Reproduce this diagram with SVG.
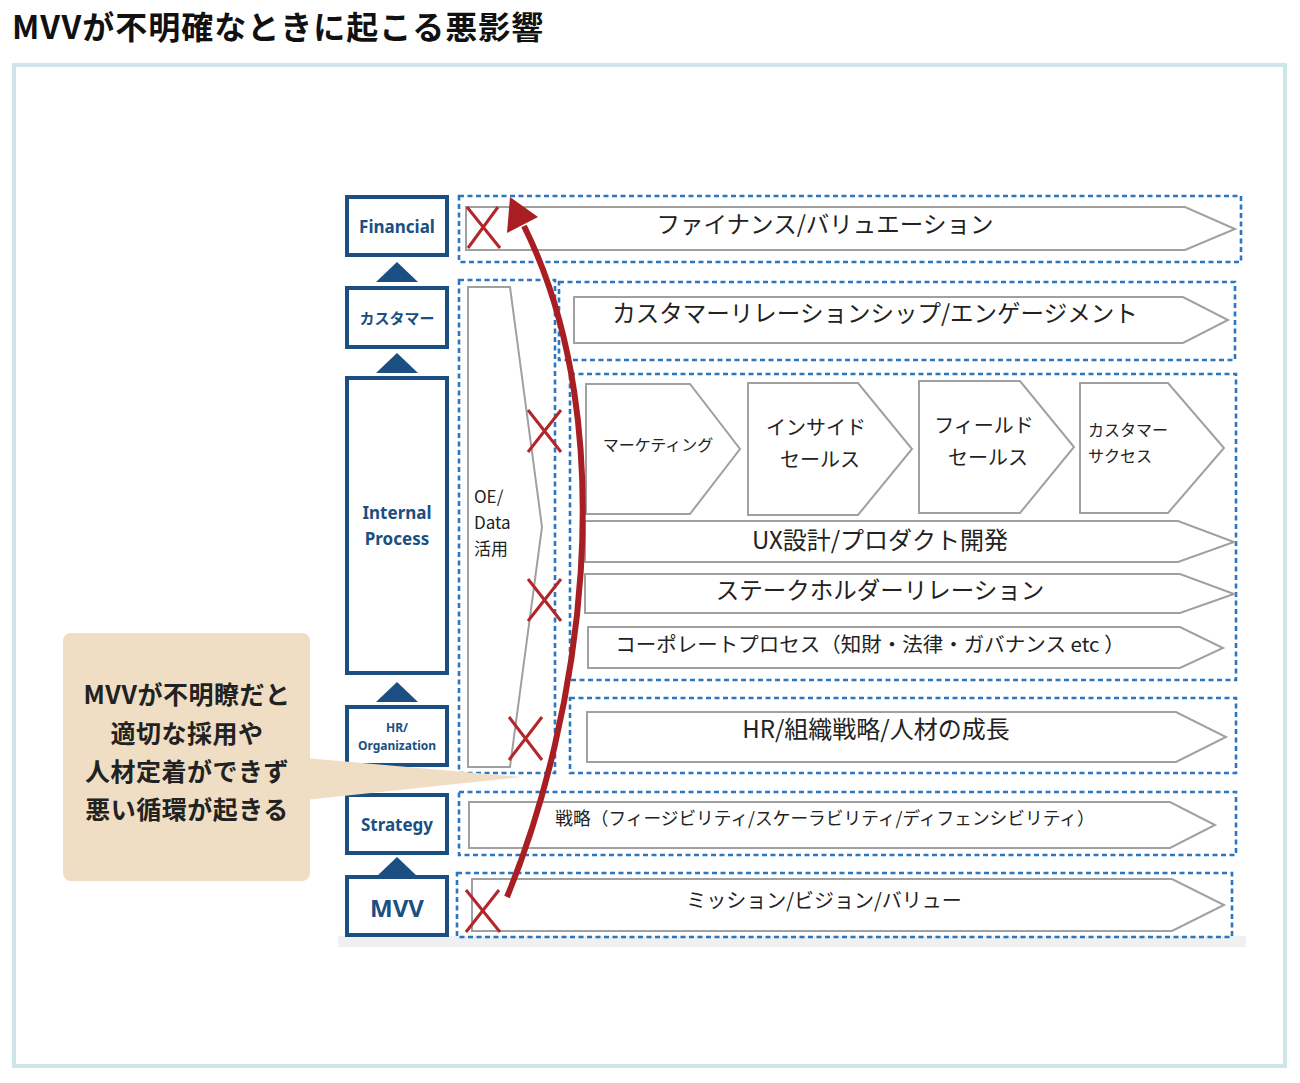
<svg xmlns="http://www.w3.org/2000/svg" width="1300" height="1083" viewBox="0 0 1300 1083">
<defs>
<style>
.t{font-family:"Noto Sans CJK JP","Noto Sans",sans-serif;}
.title{font-size:32px;font-weight:700;fill:#111;letter-spacing:1px;}
.lb{fill:#fff;stroke:#1b4f82;stroke-width:4;}
.lt{font-family:"Noto Sans","Noto Sans CJK JP",sans-serif;font-weight:700;fill:#1b4f82;text-anchor:middle;}
.tri{fill:#1b4f82;}
.dash{fill:none;stroke:#2b76bf;stroke-width:2.6;stroke-dasharray:5 3.5;}
.ar{fill:#fff;stroke:#a0a0a0;stroke-width:2;}
.at{font-family:"Noto Sans CJK JP",sans-serif;fill:#222;text-anchor:middle;}
.as{font-family:"Noto Sans CJK JP",sans-serif;fill:#222;text-anchor:start;}
.x{stroke:#b3262a;stroke-width:3;fill:none;}
.ct{font-family:"Noto Sans CJK JP",sans-serif;font-size:25px;font-weight:700;fill:#222;text-anchor:middle;letter-spacing:0.5px;}
</style>
</defs>
<rect width="1300" height="1083" fill="#fff"/>
<text class="t title" x="12" y="39">MVVが不明確なときに起こる悪影響</text>
<rect x="14" y="65" width="1271" height="1001" fill="none" stroke="#cfe6e8" stroke-width="4"/>
<rect x="338" y="936" width="908" height="11" fill="#eff0f2"/>

<g id="left-column">
<g id="n-financial"><rect class="lb" x="347" y="197" width="100" height="58"/><text class="lt" x="397" y="233" font-size="17">Financial</text></g>
<polygon class="tri" points="397,262 418,282 376,282"/>
<g id="n-customer"><rect class="lb" x="347" y="288" width="100" height="59"/><text class="lt" x="397" y="324" font-size="15" font-family="Noto Sans CJK JP,sans-serif">カスタマー</text></g>
<polygon class="tri" points="397,353 418,373 376,373"/>
<g id="n-internal"><rect class="lb" x="347" y="378" width="100" height="295"/><text class="lt" x="397" y="519" font-size="17">Internal</text><text class="lt" x="397" y="545" font-size="17">Process</text></g>
<polygon class="tri" points="397,682 418,702 376,702"/>
<g id="n-hr"><rect class="lb" x="347" y="707" width="100" height="58"/><text class="lt" x="397" y="732" font-size="12">HR/</text><text class="lt" x="397" y="750" font-size="12">Organization</text></g>
<g id="n-strategy"><rect class="lb" x="347" y="795" width="100" height="58"/><text class="lt" x="397" y="831" font-size="17">Strategy</text></g>
<polygon class="tri" points="397,857 418,877 376,877"/>
<g id="n-mvv"><rect class="lb" x="347" y="877" width="100" height="58"/><text class="lt" x="397" y="917" font-size="24">MVV</text></g>
</g>

<g id="groups">
<rect class="dash" x="459" y="196" width="782" height="66"/>
<rect class="dash" x="459" y="280" width="96" height="493"/>
<rect class="dash" x="559" y="282" width="676" height="78"/>
<rect class="dash" x="570" y="374" width="666" height="306"/>
<rect class="dash" x="570" y="698" width="666" height="75"/>
<rect class="dash" x="459" y="792" width="777" height="63"/>
<rect class="dash" x="457" y="873" width="775" height="64"/>
</g>

<g id="n-finance-row"><polygon class="ar" points="466,207 1185,207 1235,229 1185,250 466,250"/><text class="at" x="825" y="233" font-size="23.5">ファイナンス/バリュエーション</text></g>
<g id="n-oe"><polygon class="ar" points="468,287 510,287 542,527 510,767 468,767"/>
<text class="as" x="474" y="503" font-size="17">OE/</text>
<text class="as" x="474" y="529" font-size="17">Data</text>
<text class="as" x="474" y="555" font-size="17">活用</text></g>
<g id="n-crm"><polygon class="ar" points="574,297 1183,297 1228,320 1183,343 574,343"/><text class="at" x="875" y="322" font-size="23.5">カスタマーリレーションシップ/エンゲージメント</text></g>
<g id="n-marketing"><polygon class="ar" points="586,384 690,384 740,449 690,514 586,514"/><text class="at" x="658" y="451" font-size="16">マーケティング</text></g>
<g id="n-inside"><polygon class="ar" points="748,383 858,383 912,449 858,515 748,515"/><text class="at" x="816" y="435" font-size="20">インサイド</text><text class="at" x="820" y="467" font-size="20">セールス</text></g>
<g id="n-field"><polygon class="ar" points="919,381 1020,381 1074,447 1020,513 919,513"/><text class="at" x="984" y="433" font-size="20">フィールド</text><text class="at" x="988" y="465" font-size="20">セールス</text></g>
<g id="n-cs"><polygon class="ar" points="1080,383 1168,383 1224,448 1168,513 1080,513"/><text class="as" x="1088" y="436" font-size="16">カスタマー</text><text class="as" x="1088" y="462" font-size="16">サクセス</text></g>
<g id="n-ux"><polygon class="ar" points="585,521 1178,521 1234,542 1178,562 585,562"/><text class="at" x="880" y="549" font-size="24">UX設計/プロダクト開発</text></g>
<g id="n-stake"><polygon class="ar" points="585,574 1180,574 1234,594 1180,613 585,613"/><text class="at" x="880" y="599" font-size="23.5">ステークホルダーリレーション</text></g>
<g id="n-corp"><polygon class="ar" points="588,627 1180,627 1223,648 1180,668 588,668"/><text class="at" x="870" y="652" font-size="20.5">コーポレートプロセス（知財・法律・ガバナンス etc ）</text></g>
<g id="n-hr-row"><polygon class="ar" points="587,712 1176,712 1226,737 1176,762 587,762"/><text class="at" x="876" y="738" font-size="24">HR/組織戦略/人材の成長</text></g>
<g id="n-strategy-row"><polygon class="ar" points="469,802 1170,802 1215,825 1170,848 469,848"/><text class="at" x="825" y="825" font-size="17.7">戦略（フィージビリティ/スケーラビリティ/ディフェンシビリティ）</text></g>
<g id="n-mvv-row"><polygon class="ar" points="472,879 1172,879 1224,905 1172,931 472,931"/><text class="at" x="824" y="908" font-size="20">ミッション/ビジョン/バリュー</text></g>

<g id="x-marks">
<path class="x" d="M467 207 L500 248 M498 207 L468 248"/>
<path class="x" d="M528 410 L561 452 M561 410 L528 452"/>
<path class="x" d="M528 579 L561 621 M561 579 L528 621"/>
<path class="x" d="M509 717 L542 760 M542 717 L509 760"/>
<path class="x" d="M466 890 L500 932 M499 890 L466 932"/>
</g>

<g id="callout">
<rect x="63" y="633" width="247" height="248" rx="8" fill="#efdec4"/>
<polygon points="305,758 522,777 305,800" fill="#efdec4"/>
<text class="ct" x="187" y="704">MVVが不明瞭だと</text>
<text class="ct" x="187" y="743">適切な採用や</text>
<text class="ct" x="187" y="781">人材定着ができず</text>
<text class="ct" x="187" y="819">悪い循環が起きる</text>
</g>

<g id="connectors">
<path d="M507 897 C580 720, 625 430, 524 226" fill="none" stroke="#a81e22" stroke-width="6"/>
<polygon points="510,197 507,233 538,217" fill="#a81e22"/>
</g>
</svg>
